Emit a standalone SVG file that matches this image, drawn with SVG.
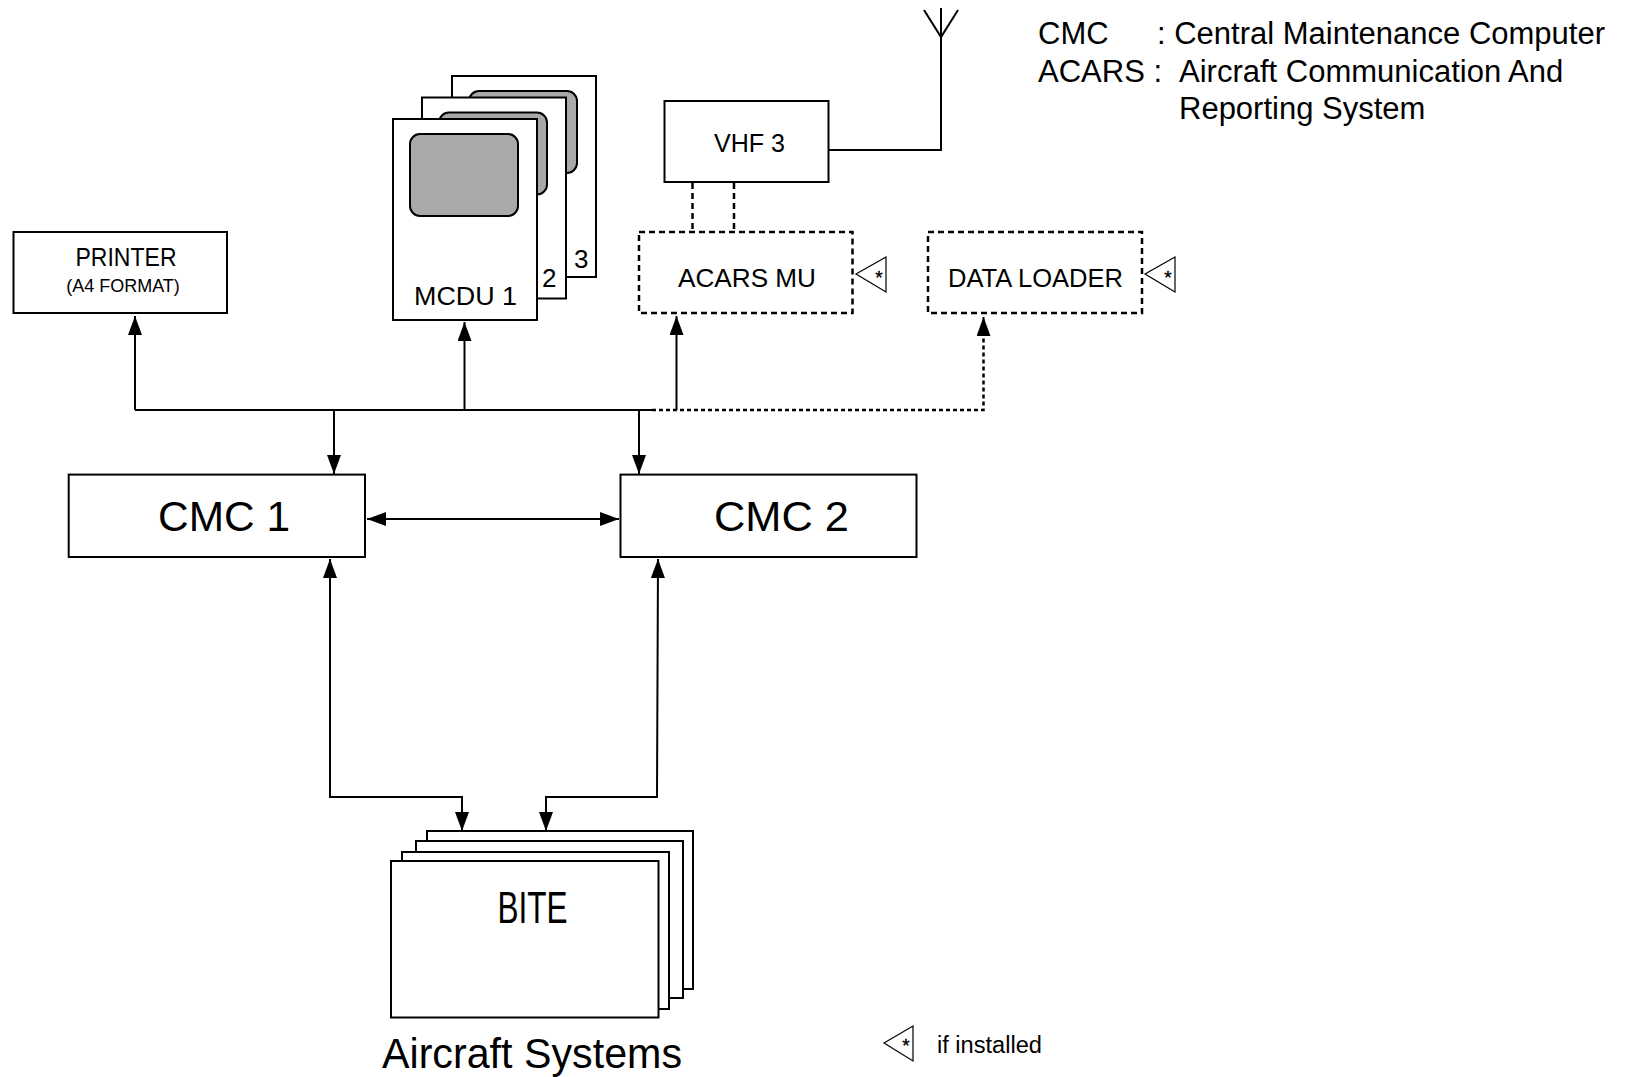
<svg xmlns="http://www.w3.org/2000/svg" width="1632" height="1077" viewBox="0 0 1632 1077">
<style>
text{font-family:"Liberation Sans",Arial,sans-serif;fill:#000}
.box{fill:#fff;stroke:#000;stroke-width:2}
.dbox{fill:#fff;stroke:#000;stroke-width:2.5;stroke-dasharray:6 4}
.scr{fill:#a9a9a9;stroke:#000;stroke-width:2}
.ln{fill:none;stroke:#000;stroke-width:2}
.dash{fill:none;stroke:#000;stroke-width:2.5;stroke-dasharray:6 4}
.dot{fill:none;stroke:#000;stroke-width:2.5;stroke-dasharray:4 3}
.tri{fill:#fff;stroke:#000;stroke-width:1.2}
.ast{font-size:19px;stroke:#000;stroke-width:0.4}
</style>
<defs>
<marker id="ah" markerUnits="userSpaceOnUse" markerWidth="19" markerHeight="14" refX="19" refY="7" orient="auto-start-reverse" viewBox="0 0 19 14">
<path d="M0,0 L19,7 L0,14 z" fill="#000"/>
</marker>
</defs>

<g id="connectors">
<path class="ln" d="M135,410 H652"/>
<path class="dot" d="M652,410 H983.5 V330"/>
<path class="ln" d="M983.5,332 V317" marker-end="url(#ah)"/>
<path class="ln" d="M135,410 V316" marker-end="url(#ah)"/>
<path class="ln" d="M464.5,410 V322" marker-end="url(#ah)"/>
<path class="ln" d="M676.5,410 V316" marker-end="url(#ah)"/>
<path class="ln" d="M334,410 V474" marker-end="url(#ah)"/>
<path class="ln" d="M639,410 V474" marker-end="url(#ah)"/>
<path class="ln" d="M367,519 H619" marker-start="url(#ah)" marker-end="url(#ah)"/>
<path class="ln" d="M462,831 V797 H330 V559" marker-start="url(#ah)" marker-end="url(#ah)"/>
<path class="ln" d="M546,831 V797 H657 L658,559" marker-start="url(#ah)" marker-end="url(#ah)"/>
<path class="ln" d="M828.5,150 H941 V8"/>
<path class="ln" d="M924,10 L941,37 L958,10"/>
<path class="dash" d="M692.5,183 V232 M734,183 V232"/>
</g>

<g id="printer">
<rect class="box" x="13.5" y="232" width="213.5" height="81"/>
<text x="126" y="266" font-size="26" text-anchor="middle" textLength="101" lengthAdjust="spacingAndGlyphs">PRINTER</text>
<text x="123" y="292" font-size="18" text-anchor="middle">(A4 FORMAT)</text>
</g>

<g id="mcdu">
<rect class="box" x="452" y="76" width="144" height="201"/>
<rect class="scr" x="469" y="91" width="108" height="82" rx="10"/>
<text x="574" y="268" font-size="26">3</text>
<rect class="box" x="422" y="97.5" width="144" height="201"/>
<rect class="scr" x="439" y="112.5" width="108" height="82" rx="10"/>
<text x="542" y="287" font-size="26">2</text>
<rect class="box" x="393" y="119" width="144" height="201"/>
<rect class="scr" x="410" y="134" width="108" height="82" rx="10"/>
<text x="414" y="305" font-size="26" textLength="103" lengthAdjust="spacingAndGlyphs">MCDU 1</text>
</g>

<g id="vhf3">
<rect class="box" x="664.5" y="101" width="164" height="81"/>
<text x="714" y="152" font-size="26" textLength="71" lengthAdjust="spacingAndGlyphs">VHF 3</text>
</g>

<g id="acars-mu">
<rect class="dbox" x="639" y="232" width="213.5" height="81"/>
<text x="678" y="287" font-size="25" textLength="138" lengthAdjust="spacingAndGlyphs">ACARS MU</text>
<polygon class="tri" points="856,274 886,257 886,292"/>
<text class="ast" x="879" y="284" text-anchor="middle">*</text>
</g>

<g id="data-loader">
<rect class="dbox" x="928" y="232" width="214" height="81"/>
<text x="948" y="287" font-size="25" textLength="175" lengthAdjust="spacingAndGlyphs">DATA LOADER</text>
<polygon class="tri" points="1145,274 1175,257 1175,292"/>
<text class="ast" x="1168" y="284" text-anchor="middle">*</text>
</g>

<g id="cmc1">
<rect class="box" x="68.7" y="474.6" width="296.3" height="82.4"/>
<text x="158" y="531" font-size="43" textLength="132" lengthAdjust="spacingAndGlyphs">CMC 1</text>
</g>

<g id="cmc2">
<rect class="box" x="620.5" y="474.6" width="296" height="82.4"/>
<text x="714" y="531" font-size="43" textLength="135" lengthAdjust="spacingAndGlyphs">CMC 2</text>
</g>

<g id="bite">
<rect class="box" x="427" y="831" width="266" height="158"/>
<rect class="box" x="416" y="841" width="267" height="157"/>
<rect class="box" x="402" y="852" width="267" height="157"/>
<rect class="box" x="391" y="861" width="267.5" height="156.5"/>
<text x="497.5" y="923" font-size="44" textLength="70" lengthAdjust="spacingAndGlyphs">BITE</text>
<text x="382" y="1068" font-size="42" textLength="300" lengthAdjust="spacingAndGlyphs">Aircraft Systems</text>
</g>

<g id="legend">
<text x="1038" y="44" font-size="31">CMC</text>
<text x="1157" y="44" font-size="31">: Central Maintenance Computer</text>
<text x="1038" y="82" font-size="31">ACARS :</text>
<text x="1179" y="82" font-size="31">Aircraft Communication And</text>
<text x="1179" y="119" font-size="31">Reporting System</text>
<polygon class="tri" points="884,1043 913,1026 913,1061"/>
<text class="ast" x="906" y="1052" text-anchor="middle">*</text>
<text x="937" y="1053" font-size="23" textLength="105" lengthAdjust="spacingAndGlyphs">if installed</text>
</g>
</svg>
